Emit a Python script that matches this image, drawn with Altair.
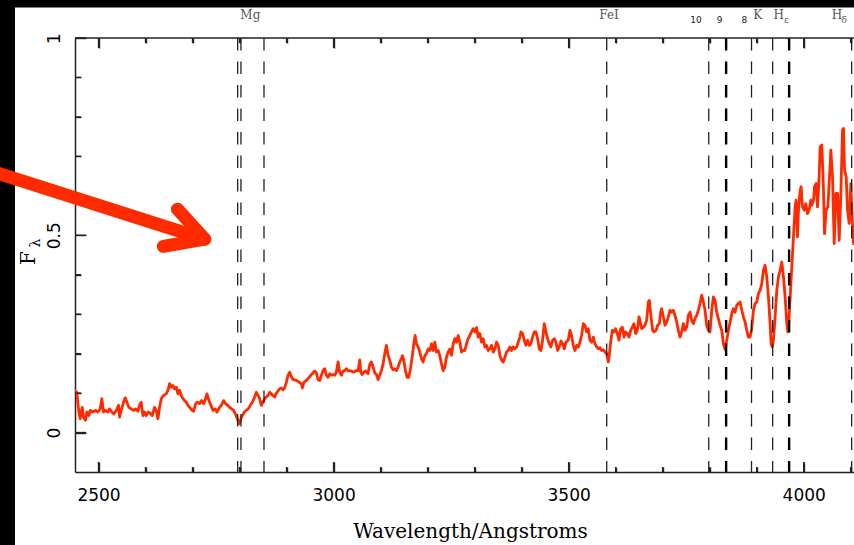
import altair as alt
import pandas as pd

# ---------------- spectrum ----------------
wl_a = [2448.9, 2453.9, 2458.2, 2461.0, 2465.3, 2468.1, 2472.4, 2475.2, 2479.5, 2482.3,
        2488.0, 2493.7, 2498.6, 2503.6, 2507.1, 2510.7, 2514.9, 2519.9, 2523.5, 2528.4,
        2532.7, 2537.7, 2542.6, 2544.8, 2548.3, 2553.3, 2556.8, 2560.4, 2564.6, 2569.6,
        2574.6, 2578.8, 2583.8, 2587.3, 2590.9, 2594.4, 2598.0, 2601.5, 2605.8, 2610.1,
        2614.3, 2619.3, 2622.8, 2626.4, 2629.9, 2633.5, 2638.4, 2644.1, 2647.7, 2651.2,
        2654.8, 2658.3, 2661.9, 2665.4, 2669.0, 2672.5, 2676.1, 2679.6, 2683.1, 2686.7,
        2690.2, 2693.8, 2699.5, 2702.3, 2706.6, 2710.8, 2715.1, 2719.3, 2723.6, 2727.9,
        2730.7, 2735.0, 2739.2, 2743.5, 2748.4, 2752.0, 2757.7, 2761.2, 2766.2, 2770.4,
        2774.7, 2778.9, 2783.2, 2787.5, 2791.7, 2795.3, 2798.8, 2801.7, 2805.9, 2810.2,
        2814.4, 2818.7, 2822.9, 2827.2, 2832.2, 2835.7, 2839.3, 2842.8, 2846.4, 2849.9,
        2853.5, 2857.0, 2862.7]
flux_a = [.107, .102, .052, .035, .064, .039, .031, .052, .043, .056,
          .052, .056, .052, .060, .086, .052, .056, .052, .060, .052,
          .047, .056, .069, .039, .056, .077, .088, .077, .064, .060,
          .056, .060, .054, .069, .077, .043, .052, .043, .052, .049,
          .043, .064, .056, .035, .064, .086, .094, .098, .107, .124,
          .115, .119, .111, .115, .098, .107, .094, .086, .081, .077,
          .069, .064, .056, .054, .073, .077, .073, .081, .073, .086,
          .098, .081, .069, .056, .060, .052, .064, .069, .081, .073,
          .069, .064, .060, .056, .046, .035, .022, .031, .043, .052,
          .056, .060, .069, .077, .090, .102, .094, .086, .069, .077,
          .086, .090, .098]

wl_b = [2864.1, 2867.6, 2871.2, 2874.7, 2878.3, 2881.8, 2885.4, 2888.9, 2892.5, 2896.0,
        2899.6, 2903.1, 2906.7, 2910.2, 2913.8, 2920.9, 2926.5, 2931.5, 2933.6, 2937.2,
        2942.2, 2947.8, 2952.8, 2956.4, 2959.9, 2963.5, 2967.0, 2970.6, 2974.1, 2977.6,
        2981.2, 2984.7, 2988.3, 2991.8, 2995.4, 2998.9, 3002.5, 3006.0, 3009.6, 3013.1,
        3016.7, 3020.2, 3023.8, 3027.3, 3030.9, 3034.4, 3038.0, 3041.5, 3045.1, 3048.6,
        3052.2, 3055.7, 3057.8, 3060.7, 3064.2, 3068.5, 3073.5, 3077.0, 3080.6, 3084.1,
        3087.6, 3091.2, 3094.7, 3098.3, 3101.8, 3105.4, 3108.9, 3112.5, 3116.0, 3119.6,
        3123.1, 3126.7, 3130.2, 3133.8, 3137.3, 3140.9, 3144.4, 3146.5, 3149.4, 3152.9,
        3156.5, 3160.0, 3163.6, 3167.1, 3170.7, 3173.5, 3176.4, 3179.9, 3183.5, 3187.0,
        3190.6, 3194.1, 3197.7, 3201.2, 3204.8, 3208.3, 3211.8, 3215.4, 3218.9, 3222.5,
        3226.0, 3229.6, 3233.1, 3236.7, 3240.2, 3243.8]
flux_b = [.102, .098, .094, .090, .100, .105, .111, .113, .108, .113,
          .128, .145, .153, .142, .134, .132, .128, .124, .113, .128,
          .132, .140, .147, .151, .156, .151, .134, .132, .145, .157,
          .162, .145, .140, .149, .145, .147, .145, .153, .179, .153,
          .145, .156, .157, .162, .156, .157, .156, .153, .155, .157,
          .157, .184, .153, .147, .153, .156, .149, .173, .179, .166,
          .151, .147, .134, .145, .157, .174, .200, .221, .195, .183,
          .166, .159, .162, .157, .166, .179, .187, .195, .183, .157,
          .140, .140, .162, .191, .225, .246, .225, .217, .204, .187,
          .179, .195, .200, .212, .208, .225, .208, .229, .204, .208,
          .195, .174, .157, .166, .191, .204]

wl_c = [3247.3, 3250.8, 3254.4, 3257.9, 3261.5, 3265.0, 3268.6, 3272.1, 3275.7, 3279.2,
        3282.8, 3286.3, 3289.9, 3293.4, 3297.0, 3300.5, 3304.1, 3307.6, 3311.2, 3314.7,
        3318.3, 3321.8, 3325.4, 3328.9, 3332.5, 3336.0, 3339.6, 3343.1, 3346.7, 3350.2,
        3353.8, 3357.3, 3360.9, 3364.4, 3368.0, 3371.5, 3375.0, 3378.6, 3382.1, 3385.7,
        3389.2, 3392.8, 3396.3, 3398.5, 3402.0, 3405.6, 3409.1, 3412.7, 3416.2, 3419.8,
        3423.3, 3426.9, 3430.4, 3434.0, 3437.5, 3441.1, 3444.6, 3448.2, 3451.7, 3455.2,
        3458.8, 3462.3, 3465.9, 3469.4, 3473.0, 3476.5, 3480.1, 3483.6, 3487.2, 3490.7,
        3494.3, 3499.2, 3502.8, 3506.3, 3509.9, 3513.4, 3517.0, 3520.5, 3524.1, 3527.6,
        3531.2, 3534.7, 3538.3, 3541.8, 3545.4, 3548.9, 3552.5, 3556.0, 3559.6, 3563.1,
        3566.7, 3570.2, 3573.8, 3577.3, 3580.9, 3584.4, 3586.5, 3589.4, 3592.9, 3596.5,
        3600.0, 3603.6, 3607.1, 3610.7, 3614.2, 3617.8, 3621.3, 3624.9, 3628.4, 3632.0,
        3635.5, 3639.1, 3642.6, 3646.1, 3649.7]
flux_c = [.212, .196, .225, .238, .229, .246, .229, .204, .208, .208,
          .225, .238, .246, .255, .263, .255, .266, .242, .251, .229,
          .238, .217, .221, .208, .212, .221, .204, .212, .229, .221,
          .196, .183, .179, .191, .204, .208, .217, .208, .217, .212,
          .217, .229, .242, .255, .251, .234, .221, .234, .221, .225,
          .242, .255, .255, .238, .212, .208, .234, .276, .255, .238,
          .225, .217, .234, .238, .229, .208, .217, .232, .225, .212,
          .229, .234, .259, .246, .221, .208, .221, .217, .229, .246,
          .276, .272, .255, .263, .234, .229, .242, .225, .217, .212,
          .215, .208, .210, .204, .200, .179, .196, .229, .259, .255,
          .263, .251, .234, .263, .267, .242, .255, .251, .242, .259,
          .267, .276, .251, .259, .293]

wl_d = [3651.8, 3655.3, 3658.9, 3662.4, 3666.0, 3669.5, 3671.7, 3674.5, 3678.8, 3681.6,
        3685.9, 3689.4, 3693.0, 3695.8, 3697.9, 3701.5, 3705.0, 3708.6, 3712.1, 3715.7,
        3719.2, 3722.8, 3726.3, 3729.9, 3733.4, 3737.0, 3740.5, 3744.1, 3747.6, 3751.2,
        3754.7, 3758.3, 3761.8, 3765.4, 3768.9, 3772.4, 3776.0, 3779.5, 3783.1, 3786.6,
        3790.2, 3793.7, 3797.3, 3800.8, 3804.4, 3807.9, 3811.5, 3815.0, 3818.6, 3822.1,
        3825.7, 3829.2, 3832.8, 3836.3, 3839.9, 3843.4, 3847.0, 3850.5, 3854.1, 3857.6,
        3861.2, 3864.7, 3868.3, 3871.8, 3875.4, 3878.9, 3882.5, 3886.0, 3889.5, 3893.1,
        3896.6, 3900.2, 3903.7]
flux_d = [.284, .263, .267, .272, .284, .331, .335, .301, .259, .255,
          .259, .272, .276, .305, .314, .293, .272, .280, .293, .310,
          .305, .310, .297, .280, .259, .242, .255, .276, .259, .267,
          .297, .305, .284, .276, .289, .297, .310, .327, .348, .331,
          .310, .272, .259, .255, .310, .344, .335, .305, .289, .272,
          .259, .225, .210, .234, .259, .280, .301, .314, .305, .322,
          .327, .331, .310, .293, .280, .259, .242, .242, .263, .310,
          .327, .331, .352]

wl_e = [3907.3, 3910.8, 3914.4, 3917.9, 3921.5, 3925.0, 3928.6, 3930.7, 3932.9, 3935.7,
        3939.2, 3942.8, 3946.3, 3949.9, 3953.4, 3957.0, 3960.5, 3964.1, 3966.2, 3968.3,
        3971.2, 3974.7, 3978.3, 3981.8, 3983.9, 3986.8, 3988.9, 3992.5, 3994.6, 3997.4,
        4001.0, 4004.5, 4008.1, 4011.6, 4015.2, 4017.3, 4020.9, 4023.0, 4026.5, 4029.4,
        4032.9, 4035.0, 4038.6, 4042.1, 4044.3, 4047.8, 4051.4, 4054.9, 4057.8, 4061.3,
        4064.9, 4068.4, 4072.0, 4075.5, 4079.1, 4082.6, 4084.7, 4086.9, 4090.4, 4093.2,
        4096.8, 4100.3, 4103.2, 4106.0, 4107.4]
flux_e = [.361, .377, .411, .424, .394, .344, .276, .225, .217, .234,
          .293, .361, .394, .411, .432, .394, .344, .276, .255, .276,
          .344, .420, .496, .572, .589, .496, .564, .614, .623, .572,
          .564, .580, .555, .564, .589, .576, .589, .623, .631, .572,
          .648, .724, .729, .614, .504, .564, .572, .648, .716, .648,
          .479, .606, .606, .487, .606, .767, .771, .665, .648, .564,
          .530, .631, .538, .479, .487]

wavelength = wl_a + wl_b + wl_c + wl_d + wl_e
flux = flux_a + flux_b + flux_c + flux_d + flux_e
assert len(wavelength) == len(flux)

# ---------------- spectral line markers ----------------
line_wl = [2796, 2803, 2852, 3581, 3798, 3889, 3934, 4102]
strong_line_wl = [3835, 3969]

label_text = ["Mg", "FeI", "K", "H", "H"]
label_wl = [2823, 3586, 3902, 3947, 4071]
order_text = ["10", "9", "8"]
order_wl = [3771, 3821, 3874]
sub_text = ["ε", "δ"]
sub_wl = [3963, 4086]

# ---------------- axes ----------------
x_major = [2500, 3000, 3500, 4000]
x_minor = [2600, 2700, 2800, 2900, 3100, 3200, 3300, 3400, 3600, 3700, 3800, 3900, 4100]
y_major = [0, 0.5, 1.0]
y_minor = [0.1, 0.2, 0.3, 0.4, 0.6, 0.7, 0.8, 0.9]
x_domain = [2450, 4107]
y_domain = [-0.1, 1.0]

# ---------------- annotation arrow (in data units) ----------------
arrow_wl = [2279, 2726, 2668, 2726, 2638]
arrow_f = [0.660, 0.490, 0.566, 0.490, 0.472]
arrow_part = ["shaft", "shaft", "head", "head", "head"]
arrow_seq = [0, 1, 0, 1, 2]

W, H = 779, 434
RED = "#ff2a00"
INK = "#222222"

xs = alt.Scale(domain=x_domain, nice=False, zero=False)
ys = alt.Scale(domain=y_domain, nice=False, zero=False)

spec_df = pd.DataFrame({"wl": wavelength, "flux": flux})
one = alt.Data(values=[{"k": 1}])

x_axis = alt.Axis(values=x_major, format="d", ticks=False, grid=False,
                  domain=True, domainColor=INK, domainWidth=1.5,
                  labelFont="DejaVu Sans", labelFontSize=17, labelColor="#000",
                  labelPadding=15, labelFlush=False,
                  title="Wavelength/Angstroms", titleFont="DejaVu Serif",
                  titleFontSize=20, titleFontWeight="normal", titleColor="#000",
                  titleX=395, titleY=65, titleAlign="center", titleBaseline="alphabetic")
y_axis = alt.Axis(values=y_major, format="~g", ticks=False, grid=False,
                  domain=True, domainColor=INK, domainWidth=1.5,
                  labelFont="DejaVu Sans", labelFontSize=17, labelColor="#000",
                  labelAngle=270, labelAlign="center", labelBaseline="bottom",
                  labelPadding=12, labelFlush=False, title=None)


def tick_axis(orient, vals, length):
    # an axis that only draws inward-pointing ticks
    return alt.Axis(orient=orient, values=vals, offset=-length, tickSize=length,
                    ticks=True, tickColor=INK, tickWidth=1.4, domain=False,
                    labels=False, grid=False, title=None)


def X(field):
    return alt.X(field, scale=xs, axis=None)


def Y(field):
    return alt.Y(field, scale=ys, axis=None)


spectrum = alt.Chart(spec_df).mark_line(color=RED, strokeWidth=2.8, clip=True,
                                        strokeJoin="round").encode(
    x=alt.X("wl:Q", scale=xs, axis=x_axis),
    y=alt.Y("flux:Q", scale=ys, axis=y_axis))

# black slide border
border_left = alt.Chart(one).mark_rect(color="#000").encode(
    x=alt.value(-75), x2=alt.value(-60), y=alt.value(-38), y2=alt.value(H + 73))
border_top = alt.Chart(one).mark_rect(color="#000").encode(
    x=alt.value(-75), x2=alt.value(W), y=alt.value(-38), y2=alt.value(-30.5))

dashed = alt.Chart(pd.DataFrame({"wl": line_wl})).mark_rule(
    color=INK, strokeWidth=1.3, strokeDash=[12.5, 11]).encode(
    x=X("wl:Q"), y=alt.value(0), y2=alt.value(H))
dashed_strong = alt.Chart(pd.DataFrame({"wl": strong_line_wl})).mark_rule(
    color="#000", strokeWidth=2.4, strokeDash=[12.5, 11]).encode(
    x=X("wl:Q"), y=alt.value(0), y2=alt.value(H))


def xticks(vals, length, name):
    d = pd.DataFrame({name: vals})
    bottom = alt.Chart(d).mark_rule(color=INK, strokeWidth=1.4).encode(
        x=alt.X(f"{name}:Q", scale=xs, axis=tick_axis("bottom", vals, length)),
        y=alt.value(H), y2=alt.value(H - length))
    top = alt.Chart(d).mark_rule(color=INK, strokeWidth=1.4).encode(
        x=alt.X(f"{name}:Q", scale=xs, axis=tick_axis("top", vals, length)),
        y=alt.value(0), y2=alt.value(length))
    return [bottom, top]


def yticks(vals, length, name):
    d = pd.DataFrame({name: vals})
    return alt.Chart(d).mark_rule(color=INK, strokeWidth=1.4).encode(
        y=alt.Y(f"{name}:Q", scale=ys, axis=tick_axis("left", vals, length)),
        x=alt.value(0), x2=alt.value(length))


top_frame = alt.Chart(one).mark_rule(color=INK, strokeWidth=1.5).encode(
    x=alt.value(0), x2=alt.value(W), y=alt.value(0))

labels = alt.Chart(pd.DataFrame({"wl": label_wl, "t": label_text})).mark_text(
    font="DejaVu Serif", fontSize=12, color="#555555", align="center", baseline="middle").encode(
    x=X("wl:Q"), y=alt.value(-23), text="t:N")
orders = alt.Chart(pd.DataFrame({"wl": order_wl, "t": order_text})).mark_text(
    font="DejaVu Sans", fontSize=9, color="#222222", align="center", baseline="middle").encode(
    x=X("wl:Q"), y=alt.value(-18), text="t:N")
subs = alt.Chart(pd.DataFrame({"wl": sub_wl, "t": sub_text})).mark_text(
    font="DejaVu Serif", fontSize=9, color="#555555", align="center", baseline="middle").encode(
    x=X("wl:Q"), y=alt.value(-18), text="t:N")

ytitle_f = alt.Chart(one).mark_text(font="DejaVu Serif", fontSize=20, color="#000",
                                    angle=270, align="center", baseline="middle").encode(
    x=alt.value(-46), y=alt.value(220), text=alt.value("F"))
ytitle_l = alt.Chart(one).mark_text(font="DejaVu Serif", fontSize=14, color="#000",
                                    angle=270, align="center", baseline="middle").encode(
    x=alt.value(-39), y=alt.value(205), text=alt.value("λ"))

arrow = alt.Chart(pd.DataFrame({"wl": arrow_wl, "f": arrow_f, "part": arrow_part,
                                "seq": arrow_seq})).mark_line(
    color=RED, strokeWidth=13, strokeCap="round", strokeJoin="round").encode(
    x=X("wl:Q"), y=Y("f:Q"), detail="part:N", order="seq:Q")

layers = [spectrum, border_left, border_top, dashed, dashed_strong]
layers += xticks(x_minor, 5, "xminor") + xticks(x_major, 10, "xmajor")
layers += [yticks(y_minor, 6, "yminor"), yticks(y_major, 11, "ymajor"), top_frame,
           labels, orders, subs, ytitle_f, ytitle_l, arrow]

chart = alt.layer(*layers).resolve_axis(x="independent", y="independent").properties(
    width=W, height=H,
    padding={"left": 75, "top": 38, "right": 0, "bottom": 73},
    autosize=alt.AutoSizeParams(type="none"),
    background="white",
).configure_view(strokeWidth=0)

chart.save("out.html", embed_options={"renderer": "svg", "actions": False})
